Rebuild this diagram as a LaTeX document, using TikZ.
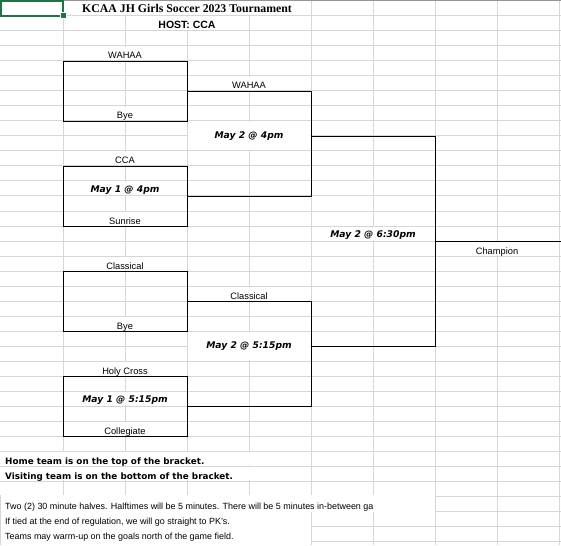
\documentclass[tikz,border=0pt]{standalone}
\usepackage{fontspec}
\setmainfont{Liberation Sans}
\newfontfamily\titlefont{Liberation Serif}
\newfontfamily\dejavu{DejaVu Sans}
\definecolor{gridgray}{RGB}{214,214,214}
\definecolor{edgegray}{RGB}{150,150,150}
\definecolor{selgreen}{RGB}{33,115,70}
\tikzset{
	team/.style={anchor=base, inner sep=0pt, font=\fontsize{9.3}{10}\selectfont},
	game/.style={anchor=base, inner sep=0pt, font=\dejavu\bfseries\itshape\fontsize{9.2}{10}\selectfont},
	match/.style={draw=black, line width=0.9pt, minimum width=124pt, minimum height=60pt, inner sep=0pt},
	bracket/.style={black, line width=0.9pt},
	boldnote/.style={anchor=base west, inner sep=0pt, font=\dejavu\bfseries\fontsize{8.8}{10}\selectfont},
	note/.style={anchor=base west, inner sep=0pt, font=\fontsize{8.95}{10}\selectfont}
}
\begin{document}
\begin{tikzpicture}[x=1pt, y=-1pt]
	\useasboundingbox (0, 0) rectangle (561, 545);
	% sheet grid
	\foreach \x in {63, 125, ..., 559}{
		\draw[gridgray, line width=1pt] (\x, 0) -- (\x, 545);
	}
	\foreach \y in {16, 31, ..., 541}{
		\draw[gridgray, line width=1pt] (0, \y) -- (561, \y);
	}
	% cells where text runs over the grid
	\foreach \xa/\xb/\ya/\yb in {63/311/0/16, 125/249/16/31, 63/187/46/61, 63/187/106/121,
			187/311/76/91, 187/311/121/151, 63/187/151/166, 63/187/181/196, 63/187/211/226,
			311/435/226/241, 435/559/241/256, 63/187/256/271, 187/311/286/301, 63/187/316/331,
			187/311/331/361, 63/187/361/376, 63/187/391/406, 63/187/421/436,
			0/311/451/466, 0/311/466/481}{
		\fill[white] (\xa + 0.6, \ya + 0.6) rectangle (\xb - 0.6, \yb - 0.6);
	}
	\fill[white] (-1, 495.4) rectangle (434.5, 511.6);
	\fill[white] (-1, 511.4) rectangle (310.5, 546);
	\draw[gridgray, line width=1pt] (0.5, 495) -- (0.5, 545);
	\draw[edgegray, line width=1pt] (63, 0.5) -- (561, 0.5);
	% selected cell
	\draw[selgreen, line width=2pt] (1, 1) rectangle (63, 16);
	\fill[white] (59.5, 12.5) rectangle (66.5, 19.5);
	\fill[selgreen] (60.5, 13.5) rectangle (65.5, 18.5);
	% headings
	\node[anchor=base, inner sep=0pt, font=\titlefont\bfseries\fontsize{11.8}{13}\selectfont] (title) at (187, 12.7) {KCAA JH Girls Soccer 2023 Tournament};
	\node[anchor=base, inner sep=0pt, font=\bfseries\fontsize{10.5}{12}\selectfont] (host) at (187, 28.5) {HOST: CCA};
	% first round
	\node[match] (g1) at (125, 91) {};
	\node[match] (g2) at (125, 196) {};
	\node[match] (g3) at (125, 301) {};
	\node[match] (g4) at (125, 406) {};
	\node[team] (g1top) at (125, 59) {WAHAA};
	\node[team] (g1bot) at (125, 119) {Bye};
	\node[team] (g2top) at (125, 164) {CCA};
	\node[game] (g2time) at (125, 192.5) {May 1 @ 4pm};
	\node[team] (g2bot) at (125, 224) {Sunrise};
	\node[team] (g3top) at (125, 269) {Classical};
	\node[team] (g3bot) at (125, 329) {Bye};
	\node[team] (g4top) at (125, 374) {Holy Cross};
	\node[game] (g4time) at (125, 402.5) {May 1 @ 5:15pm};
	\node[team] (g4bot) at (125, 434) {Collegiate};
	% second round
	\coordinate (s1a) at (311, 91);
	\coordinate (s1b) at (311, 196);
	\coordinate (s1o) at (311, 136);
	\coordinate (s2a) at (311, 301);
	\coordinate (s2b) at (311, 406);
	\coordinate (s2o) at (311, 346);
	\draw[bracket] (g1.east) -- (s1a) -- (s1b) -- (g2.east);
	\draw[bracket] (g3.east) -- (s2a) -- (s2b) -- (g4.east);
	\node[team] (s1top) at (249, 89) {WAHAA};
	\node[game] (s1time) at (249, 138.5) {May 2 @ 4pm};
	\node[team] (s2top) at (249, 299) {Classical};
	\node[game] (s2time) at (249, 348.5) {May 2 @ 5:15pm};
	% final
	\coordinate (f1) at (435, 136);
	\coordinate (f2) at (435, 346);
	\coordinate (fc) at (435, 241);
	\coordinate (champ) at (561, 241);
	\draw[bracket] (s1o) -- (f1) -- (f2) -- (s2o);
	\draw[bracket] (fc) -- (champ);
	\node[game] (ftime) at (373, 237) {May 2 @ 6:30pm};
	\node[team] (winner) at (497, 254) {Champion};
	% notes
	\node[boldnote] (home) at (5, 464) {Home team is on the top of the bracket.};
	\node[boldnote] (away) at (5, 479) {Visiting team is on the bottom of the bracket.};
	\node[note] (rule1) at (5, 509) {Two (2) 30 minute halves. Halftimes will be 5 minutes. There will be 5 minutes in-between ga};
	\node[note] (rule2) at (5, 524) {If tied at the end of regulation, we will go straight to PK's.};
	\node[note] (rule3) at (5, 539) {Teams may warm-up on the goals north of the game field.};
\end{tikzpicture}
\end{document}
